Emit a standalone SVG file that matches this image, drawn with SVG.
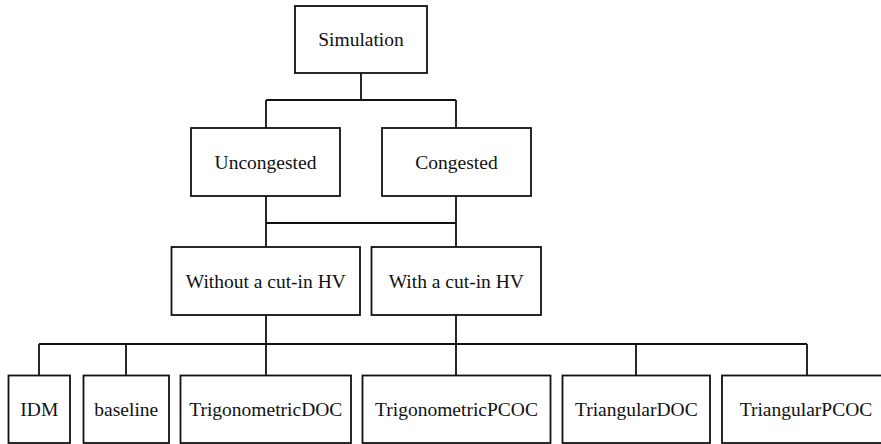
<svg xmlns="http://www.w3.org/2000/svg" width="881" height="444" viewBox="0 0 881 444">
<style>
.box{fill:#fff;stroke:#111;stroke-width:1.8}
.ln{fill:none;stroke:#111;stroke-width:1.8}
text{font-family:"Liberation Serif","Times New Roman",serif;font-size:19.5px;fill:#111;text-anchor:middle}
</style>
<rect width="881" height="444" fill="#fff"/>
<g id="connectors">
<path class="ln" d="M361,73 V100 M266,100 H456 M266,100 V128 M456,100 V128"/>
<path class="ln" d="M266,196 V247 M456,196 V247 M266,223 H456"/>
<path class="ln" d="M266,315 V375.5 M456,315 V375.5 M39,344 H807 M39,344 V375.5 M126,344 V375.5 M636,344 V375.5 M807,344 V375.5"/>
</g>
<g id="simulation"><rect class="box" x="295" y="6" width="132" height="67"/><text x="361" y="46">Simulation</text></g>
<g id="uncongested"><rect class="box" x="191" y="128" width="149" height="68"/><text x="265.5" y="168.5">Uncongested</text></g>
<g id="congested"><rect class="box" x="382" y="128" width="149" height="68"/><text x="456.5" y="168.5">Congested</text></g>
<g id="without"><rect class="box" x="171.5" y="247" width="188.5" height="68"/><text x="265.8" y="287.5">Without a cut-in HV</text></g>
<g id="with"><rect class="box" x="371.5" y="247" width="169.5" height="68"/><text x="456.3" y="287.5">With a cut-in HV</text></g>
<g id="idm"><rect class="box" x="8.5" y="375.5" width="61.5" height="67.5"/><text x="39.3" y="416">IDM</text></g>
<g id="baseline"><rect class="box" x="83.5" y="375.5" width="85.5" height="67.5"/><text x="126.3" y="416">baseline</text></g>
<g id="trigdoc"><rect class="box" x="180.5" y="375.5" width="170.5" height="67.5"/><text x="265.8" y="416">TrigonometricDOC</text></g>
<g id="trigpcoc"><rect class="box" x="362.5" y="375.5" width="188" height="67.5"/><text x="456.5" y="416">TrigonometricPCOC</text></g>
<g id="tridoc"><rect class="box" x="562.5" y="375.5" width="147.5" height="67.5"/><text x="636.3" y="416">TriangularDOC</text></g>
<g id="tripcoc"><rect class="box" x="722" y="375.5" width="168" height="67.5"/><text x="806" y="416">TriangularPCOC</text></g>
</svg>
